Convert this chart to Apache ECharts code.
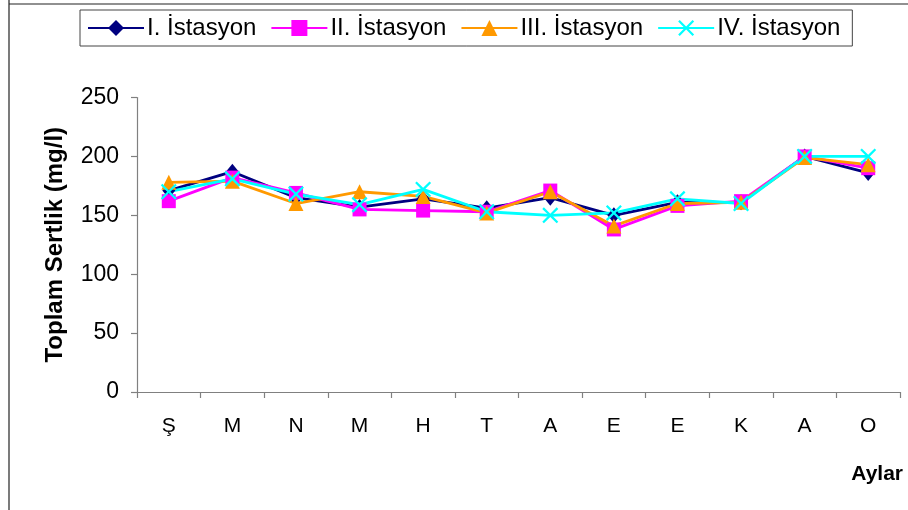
<!DOCTYPE html>
<html>
<head>
<meta charset="utf-8">
<script src="https://cdn.jsdelivr.net/npm/echarts@6/dist/echarts.min.js"></script>
<style>
  html, body { margin: 0; padding: 0; background: #ffffff; }
  #chart { width: 908px; height: 510px; }
</style>
</head>
<body>
<div id="chart"></div>
<script>
// Months (initials) and total hardness per station, mg/l
const months = ['Ş', 'M', 'N', 'M', 'H', 'T', 'A', 'E', 'E', 'K', 'A', 'O'];
const station1 = [171, 187, 165, 157, 164, 156, 165, 150, 161, 161, 200, 186];
const station2 = [162, 182, 169, 155, 154, 153, 171, 138, 158, 162, 200, 190];
const station3 = [178, 179, 160, 170, 166, 152, 170, 141, 160, 161, 199, 193];
const station4 = [170, 181, 168, 159, 172, 153, 150, 152, 164, 160, 200, 200];
const seriesNames = ['I. İstasyon', 'II. İstasyon', 'III. İstasyon', 'IV. İstasyon'];
const yTicks = [0, 50, 100, 150, 200, 250];
const xTitle = 'Aylar';
const yTitle = 'Toplam Sertlik (mg/l)';

const FONT = 'Liberation Sans, Arial, sans-serif';
const crossPath = 'path://M0,2 L2,0 L10,8 L18,0 L20,2 L12,10 L20,18 L18,20 L10,12 L2,20 L0,18 L8,10 Z';

function lineSeries(name, data, color, symbol, size) {
  return {
    name: name,
    type: 'line',
    data: data,
    symbol: symbol,
    symbolSize: size,
    symbolKeepAspect: true,
    showAllSymbol: true,
    lineStyle: { color: color, width: 2.8 },
    itemStyle: { color: color, borderWidth: 0 },
    emphasis: { disabled: true }
  };
}

const chart = echarts.init(document.getElementById('chart'), null, { renderer: 'canvas' });
chart.setOption({
  animation: false,
  backgroundColor: '#ffffff',
  textStyle: { fontFamily: FONT },
  graphic: [
    // outer frame (left and top edges)
    { type: 'line', shape: { x1: 9, y1: 0, x2: 9, y2: 510 }, style: { stroke: '#222', lineWidth: 1.2 } },
    { type: 'line', shape: { x1: 9, y1: 4, x2: 908, y2: 4 }, style: { stroke: '#222', lineWidth: 1.2 } },
    // category axis title, lower right corner
    {
      type: 'text', right: 5, top: 464,
      style: { text: xTitle, font: 'bold 21px ' + FONT, fill: '#000' }
    }
  ],
  legend: {
    left: 80,
    top: 10,
    padding: [6, 12, 6, 7],
    itemGap: 14,
    itemWidth: 56,
    itemHeight: 20,
    borderColor: '#444',
    borderWidth: 1,
    textStyle: { fontFamily: FONT, fontSize: 24, color: '#000', padding: [0, 0, 0, -2] },
    data: seriesNames
  },
  grid: { left: 137, right: 8, top: 97.5, bottom: 118, containLabel: false },
  xAxis: {
    type: 'category',
    data: months,
    boundaryGap: true,
    axisLine: { lineStyle: { color: '#808080', width: 1.2 } },
    axisTick: { show: true, alignWithLabel: false, length: 6, lineStyle: { color: '#808080', width: 1.2 } },
    axisLabel: { fontFamily: FONT, fontSize: 21, color: '#000', margin: 24 },
    splitLine: { show: false }
  },
  yAxis: {
    type: 'value',
    min: yTicks[0],
    max: yTicks[yTicks.length - 1],
    interval: 50,
    name: yTitle,
    nameLocation: 'middle',
    nameRotate: 90,
    nameGap: 70,
    nameTextStyle: { fontFamily: FONT, fontSize: 24, fontWeight: 'bold', color: '#000' },
    axisLine: { show: true, lineStyle: { color: '#808080', width: 1.2 } },
    axisTick: { show: true, length: 6, lineStyle: { color: '#808080', width: 1.2 } },
    axisLabel: { fontFamily: FONT, fontSize: 23, color: '#000', margin: 18 },
    splitLine: { show: false }
  },
  series: [
    lineSeries(seriesNames[0], station1, '#000080', 'diamond', [13, 16]),
    lineSeries(seriesNames[1], station2, '#ff00ff', 'rect', 14),
    lineSeries(seriesNames[2], station3, '#ff9900', 'triangle', 15),
    lineSeries(seriesNames[3], station4, '#00ffff', crossPath, 16)
  ]
});
</script>
</body>
</html>
